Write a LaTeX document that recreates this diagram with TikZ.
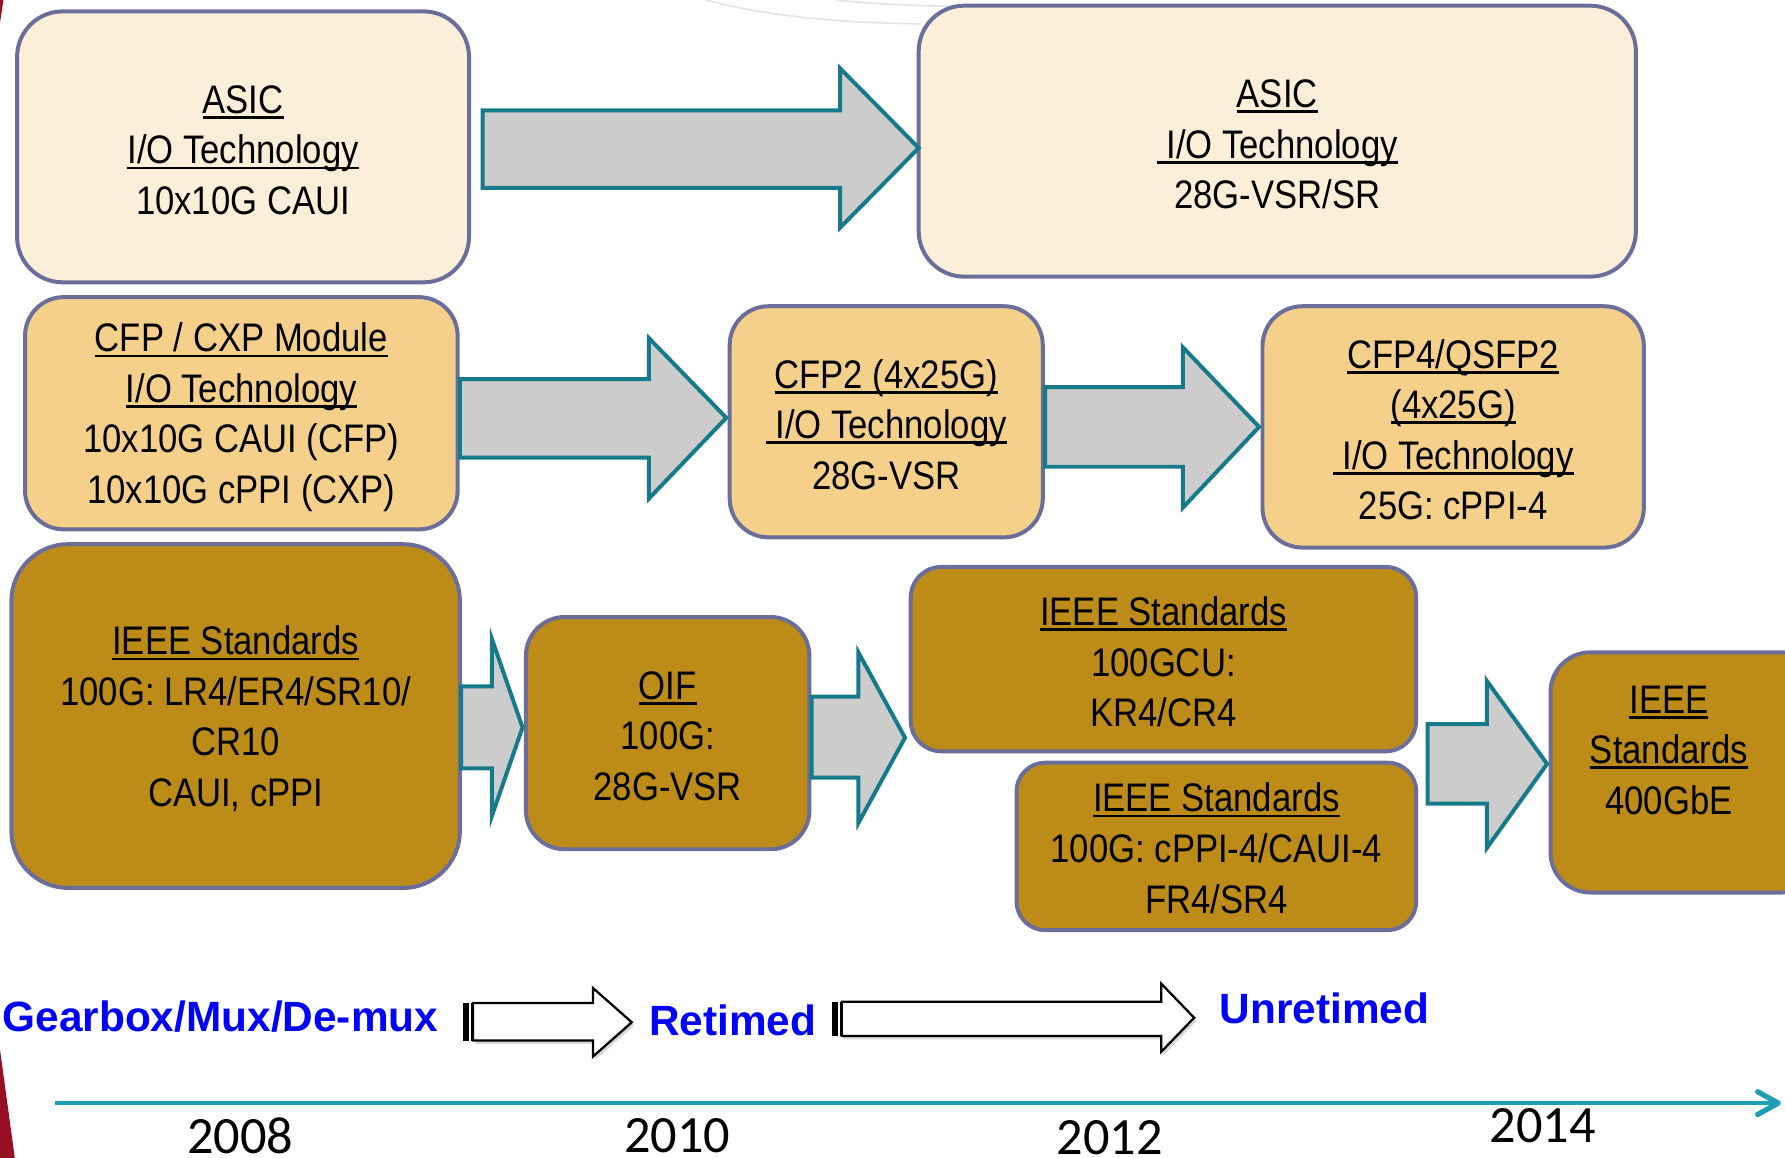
\documentclass[tikz,border=0pt]{standalone}
\usepackage{fontspec}
\setmainfont{Liberation Sans}
\newfontfamily\narrowfont[FakeStretch=0.87]{Liberation Sans}
\newfontfamily\yearfont{Carlito}
\usetikzlibrary{shadows}
\definecolor{cream}{RGB}{251,239,217}
\definecolor{sand}{RGB}{244,208,138}
\definecolor{gold}{RGB}{189,139,23}
\definecolor{slate}{RGB}{107,110,154}
\definecolor{arrowteal}{RGB}{23,122,138}
\definecolor{lineteal}{RGB}{30,158,181}
\definecolor{arrowgray}{RGB}{204,204,204}
\definecolor{labelblue}{RGB}{0,0,255}
\definecolor{slidered}{RGB}{150,15,35}
\newbox\ulbx
\newcommand\ulin[1]{\setbox\ulbx=\hbox{#1}\rlap{\rule[-2.4pt]{\wd\ulbx}{1.2pt}}\box\ulbx}
\tikzset{
  box/.style={draw=slate, line width=1.75pt, inner sep=0pt},
  boxtext/.style={inner sep=0pt, align=center,
    font=\narrowfont\fontsize{17.5}{22.2}\selectfont},
  blockarrow/.style={fill=arrowgray, draw=arrowteal, line width=1.75pt, line join=miter},
  whitearrow/.style={fill=white, draw=black, line width=1pt, line join=miter,
    drop shadow={opacity=0.3, shadow xshift=1pt, shadow yshift=-1.5pt}},
  stage/.style={inner sep=0pt, anchor=base west, text=labelblue,
    font=\bfseries\fontsize{18.6}{22}\selectfont},
  year/.style={inner sep=0pt, anchor=base, font=\yearfont\fontsize{23}{26}\selectfont}
}
\begin{document}
\begin{tikzpicture}[x=0.5pt,y=-0.5pt]
\useasboundingbox (0,0) rectangle (1568,1017);

% background decorations
\draw[gray!22, line width=0.7pt] (620,0) .. controls (665,12) and (725,20) .. (810,21);
\draw[gray!22, line width=0.7pt] (735,0) .. controls (770,4) and (820,6) .. (885,6);
\fill[slidered] (0,922) -- (13,1017) -- (0,1017) -- cycle;
\fill[slidered] (0,0) -- (3,0) -- (0,20) -- cycle;

% row 1
\node[box, fill=cream, rounded corners=20pt, minimum width=198.5pt, minimum height=119pt]
  (asicL) at (213.5,129) {};
\node[boxtext] (asicLt) at ([yshift=-1.5pt]asicL.center) {\ulin{ASIC}\\\ulin{I/O Technology}\\10x10G CAUI};
\node[box, fill=cream, rounded corners=20pt, minimum width=315pt, minimum height=119pt]
  (asicR) at (1122,124) {};
\node[boxtext] (asicRt) at ([yshift=-1.5pt]asicR.center) {\ulin{ASIC}\\\ulin{\ I/O Technology}\\28G-VSR/SR};

% row 2
\node[box, fill=sand, rounded corners=17pt, minimum width=190pt, minimum height=102pt]
  (cfp) at (212,363) {};
\node[boxtext] (cfpt) at ([yshift=-1.8pt]cfp.center) {\ulin{CFP / CXP Module}\\\ulin{I/O Technology}\\10x10G CAUI (CFP)\\10x10G cPPI (CXP)};
\node[box, fill=sand, rounded corners=17pt, minimum width=137.5pt, minimum height=101.5pt]
  (cfp2) at (778.5,370.5) {};
\node[boxtext] (cfp2t) at ([yshift=-1.2pt]cfp2.center) {\ulin{CFP2 (4x25G)}\\\ulin{\ I/O Technology}\\28G-VSR};
\node[box, fill=sand, rounded corners=17.5pt, minimum width=167.5pt, minimum height=106pt]
  (cfp4) at (1276.5,375) {};
\node[boxtext] (cfp4t) at ([yshift=-1.2pt]cfp4.center) {\ulin{CFP4/QSFP2}\\\ulin{(4x25G)}\\\ulin{\ I/O Technology}\\25G: cPPI-4};

% row 3
\node[box, fill=gold, rounded corners=25pt, minimum width=197pt, minimum height=151pt]
  (ieeeL) at (207,629) {};
\node[boxtext] (ieeeLt) at ([yshift=-1.2pt]ieeeL.center) {\ulin{IEEE Standards}\\100G: LR4/ER4/SR10/\\CR10\\CAUI, cPPI};
\node[box, fill=gold, rounded corners=17pt, minimum width=124.5pt, minimum height=102pt]
  (oif) at (586.5,644) {};
\node[boxtext] (oift) at ([yshift=-1.2pt]oif.center) {\ulin{OIF}\\100G:\\28G-VSR};
\node[box, fill=gold, rounded corners=13.5pt, minimum width=222pt, minimum height=81pt]
  (gcu) at (1022,579) {};
\node[boxtext] (gcut) at ([yshift=-1.2pt]gcu.center) {\ulin{IEEE Standards}\\100GCU:\\KR4/CR4};
\node[box, fill=gold, rounded corners=12.5pt, minimum width=175.5pt, minimum height=73.5pt]
  (cppi) at (1068.5,743.5) {};
\node[boxtext] (cppit) at ([yshift=-0.8pt]cppi.center) {\ulin{IEEE Standards}\\100G: cPPI-4/CAUI-4\\FR4/SR4};
\begin{scope}
\clip (0,0) rectangle (1568,1017);
\node[box, fill=gold, rounded corners=17.5pt, minimum width=119pt, minimum height=105.5pt]
  (ieee400) at (1481,678.5) {};
\end{scope}
\node[boxtext] (ieee400t) at (1466,659) {\ulin{IEEE}\\\ulin{Standards}\\400GbE};

% gray block arrows
\draw[blockarrow] (424,97) -- (738,97) -- (738,60) -- (807,130) -- (738,200) -- (738,165) -- (424,165) -- cycle;
\draw[blockarrow] (404,333) -- (570,333) -- (570,297) -- (638,367) -- (570,438) -- (570,402) -- (404,402) -- cycle;
\draw[blockarrow] (918,340) -- (1039,340) -- (1039,305) -- (1106,375) -- (1039,446) -- (1039,410) -- (918,410) -- cycle;
\draw[blockarrow] (405,603) -- (432,603) -- (432,561) -- (459,639) -- (432,717) -- (432,675) -- (405,675) -- cycle;
\draw[blockarrow] (713,612) -- (754,612) -- (754,573) -- (795,648) -- (754,723) -- (754,683) -- (713,683) -- cycle;
\draw[blockarrow] (1254,636) -- (1306,636) -- (1306,598) -- (1359,671) -- (1306,745) -- (1306,706) -- (1254,706) -- cycle;

% white striped arrows
\fill[black] (407,881) rectangle (412,914);
\fill[black] (413.5,881) rectangle (415.5,914);
\draw[whitearrow] (415.5,881) -- (521,881) -- (521,868) -- (555,898) -- (521,928) -- (521,914) -- (415.5,914) -- cycle;
\fill[black] (731,880) rectangle (736,910);
\fill[black] (737.5,880) rectangle (739.5,910);
\draw[whitearrow] (739.5,880) -- (1020,880) -- (1020,864) -- (1049,894) -- (1020,924) -- (1020,910) -- (739.5,910) -- cycle;

% stage labels
\node[stage] (gear) at (2,906.5) {Gearbox/Mux/De-mux};
\node[stage] (ret) at (570,909.5) {Retimed};
\node[stage] (unret) at (1071,899) {Unretimed};

% timeline
\coordinate (tlstart) at (48,969);
\coordinate (tlend) at (1562,969);
\draw[lineteal, line width=2pt] (tlstart) -- (tlend);
\draw[lineteal, line width=2.3pt, line cap=round, line join=round] (1544,959) -- (tlend) -- (1544,979);

\node[year] (y2008) at (211,1013) {2008};
\node[year] (y2010) at (595,1012) {2010};
\node[year] (y2012) at (975,1014) {2012};
\node[year] (y2014) at (1355,1004) {2014};
\end{tikzpicture}
\end{document}
